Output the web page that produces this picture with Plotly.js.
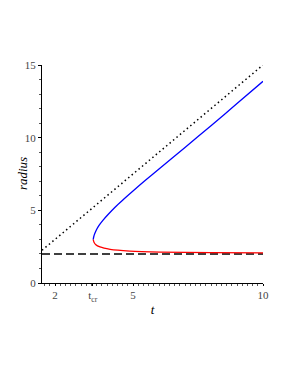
<!DOCTYPE html>
<html><head><meta charset="utf-8">
<script src="https://cdn.plot.ly/plotly-3.0.1.min.js"></script>
<style>html,body{margin:0;padding:0;background:#fff}#chart{width:289px;height:374px}</style>
</head><body><div id="chart"></div>
<script>
// upper branch (blue)
var blueT = [3.47, 3.49, 3.53, 3.60, 3.70, 3.85, 4.05, 4.30, 4.60, 5.00, 5.50, 6.00, 7.00, 8.00, 9.00, 10.00];
var blueR = [2.98, 3.18, 3.40, 3.68, 3.98, 4.33, 4.73, 5.20, 5.70, 6.33, 7.10, 7.85, 9.33, 10.82, 12.35, 13.88];
// lower branch (red)
var redT = [3.47, 3.50, 3.56, 3.73, 4.12, 4.88, 6.04, 8.00, 10.00];
var redR = [2.98, 2.80, 2.65, 2.48, 2.32, 2.20, 2.13, 2.09, 2.07];
// asymptotes
var dotT = [1.5, 10];
var dotR = [2.25, 15];
var dashT = [1.5, 10];
var dashR = [2, 2];
// ticks
var xTickVals = [2, 3.45, 5, 10];
var xTickText = ['2', 't<sub>cr</sub>', '5', '10'];
var yTickVals = [0, 5, 10, 15];

var traces = [
  {x: dotT, y: dotR, mode: 'lines', line: {color: '#000', width: 1.5, dash: '1.5px,3px'}, hoverinfo: 'skip'},
  {x: dashT, y: dashR, mode: 'lines', line: {color: '#000', width: 1.5, dash: '8px,4px'}, hoverinfo: 'skip'},
  {x: blueT, y: blueR, mode: 'lines', line: {color: '#0000ff', width: 1.3, shape: 'spline', smoothing: 0.6}},
  {x: redT, y: redR, mode: 'lines', line: {color: '#ff0000', width: 1.3, shape: 'spline', smoothing: 0.6}}
];
var fontS = {family: 'Liberation Serif, Times New Roman, serif', size: 11, color: '#444'};
var layout = {
  width: 289, height: 374,
  margin: {l: 42, r: 26, t: 65, b: 91},
  paper_bgcolor: '#fff', plot_bgcolor: '#fff',
  showlegend: false,
  xaxis: {
    range: [1.5, 10], showgrid: false, zeroline: false,
    showline: true, linecolor: '#000', linewidth: 1,
    tickmode: 'array', tickvals: xTickVals, ticktext: xTickText,
    ticks: 'outside', ticklen: 2, tickcolor: '#000', tickfont: fontS,
    minor: {tickmode: 'linear', tick0: 0, dtick: 0.2, ticks: 'outside', ticklen: 2, tickcolor: '#555', showgrid: false},
    title: {text: 't', font: {family: 'Liberation Serif, serif', size: 13, color: '#000', style: 'italic'}, standoff: 2}
  },
  yaxis: {
    range: [0, 15], showgrid: false, zeroline: false,
    showline: true, linecolor: '#000', linewidth: 1,
    tickmode: 'array', tickvals: yTickVals,
    ticks: 'outside', ticklen: 3, tickcolor: '#000', tickfont: fontS,
    minor: {tickmode: 'linear', tick0: 0, dtick: 1, ticks: 'outside', ticklen: 2, tickcolor: '#555', showgrid: false}
  },
  annotations: [{
    text: 'radius', xref: 'paper', yref: 'paper', x: -0.09, y: 0.5,
    xanchor: 'center', yanchor: 'middle', textangle: -90, showarrow: false,
    font: {family: 'Liberation Serif, serif', size: 13, color: '#000', style: 'italic'}
  }]
};
Plotly.newPlot('chart', traces, layout, {staticPlot: true, displayModeBar: false});
</script></body></html>
